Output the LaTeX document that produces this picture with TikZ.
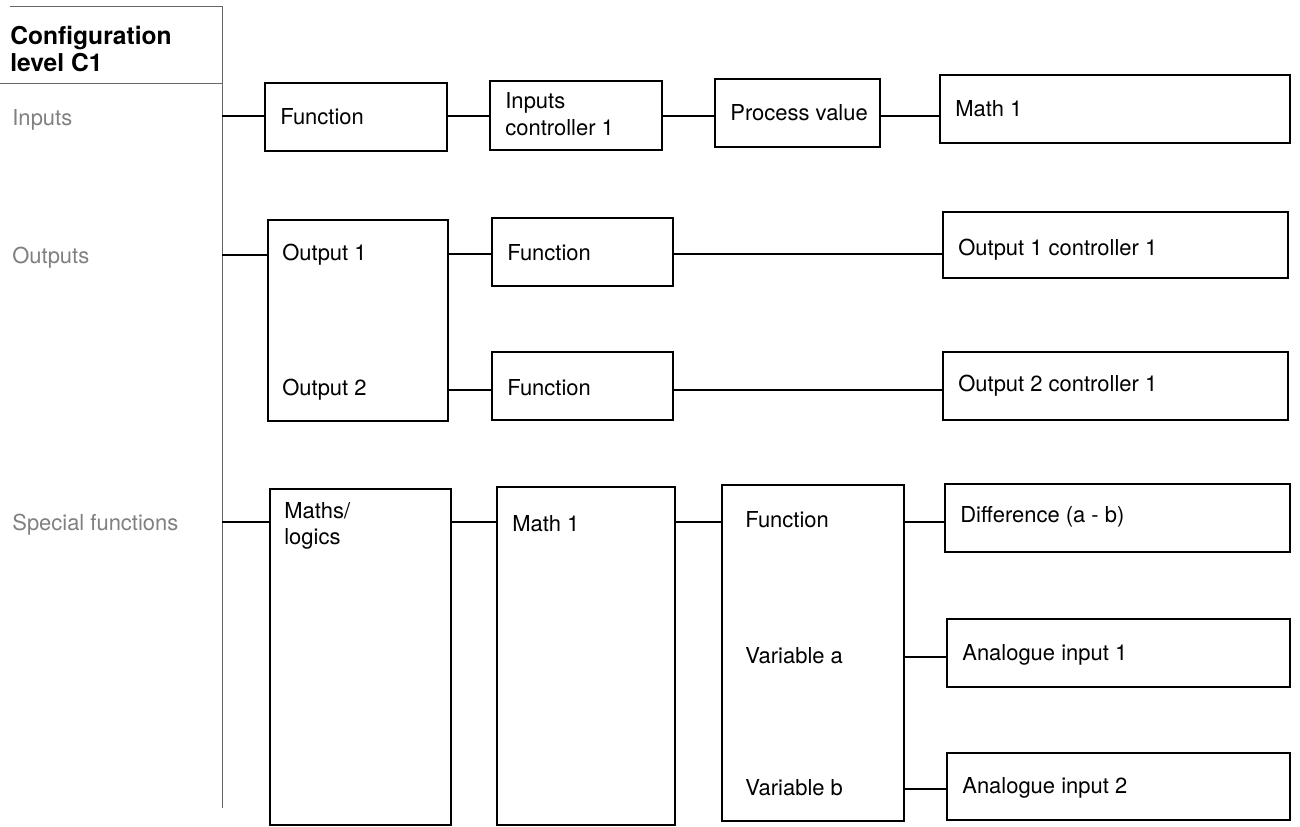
\documentclass[tikz,border=0pt]{standalone}
\usepackage{fontspec}
\setmainfont{TeX Gyre Heros}
\usetikzlibrary{fit}
\tikzset{
  box/.style={draw=black, line width=0.6pt, inner sep=0pt},
  lbl/.style={anchor=west, inner sep=0pt, font=\fontsize{12.5}{15}\selectfont, align=left},
  side/.style={lbl, text=black!50},
  conn/.style={draw=black, line width=0.8pt},
  frame/.style={draw=black!60, line width=0.5pt},
}
\begin{document}
\begin{tikzpicture}[x=0.02cm,y=-0.02cm]
\useasboundingbox (0,0) rectangle (1300,827);
% header
\node[anchor=north west, inner sep=0pt, font=\bfseries\fontsize{14}{15.5}\selectfont, align=left] (title) at (10,26) {Configuration\\level C1};
\coordinate (spT) at (222,6);
\coordinate (spB) at (222,808);
\coordinate (hdL) at (0,83);
\draw[frame] (10,6) -- (spT) -- (spB);
\draw[frame] (hdL) -- (spT |- hdL);
% side labels
\node[side] (sIn) at (12,120) {Inputs};
\node[side] (sOut) at (12,258) {Outputs};
\node[side] (sSp) at (12,525) {Special functions};
% row coordinates
\coordinate (rIn) at (0,116);
\coordinate (rO1) at (0,254);
\coordinate (rO2) at (0,390);
\coordinate (rS) at (0,522);
\coordinate (rVa) at (0,657);
\coordinate (rVb) at (0,789);
% inputs row
\node[box, fit={(265,83) (447,151)}] (fnA) {};
\node[lbl] (tFnA) at (280,117) {Function};
\node[box, fit={(490,81) (662,150)}] (icA) {};
\node[lbl] (tIcA) at (505,114) {Inputs\\controller 1};
\node[box, fit={(715,79) (880,147)}] (pvA) {};
\node[lbl] (tPvA) at (730,113) {Process value};
\node[box, fit={(940,75) (1290,143)}] (mA) {};
\node[lbl] (tMA) at (955,109) {Math 1};
\draw[conn] (spT |- rIn) -- (fnA.west |- rIn);
\draw[conn] (fnA.east |- rIn) -- (icA.west |- rIn);
\draw[conn] (icA.east |- rIn) -- (pvA.west |- rIn);
\draw[conn] (pvA.east |- rIn) -- (mA.west |- rIn);
% outputs row
\node[box, fit={(268,220) (448,421)}] (outB) {};
\node[lbl] (tO1) at (282,255) {Output 1};
\node[lbl] (tO2) at (282,390) {Output 2};
\node[box, fit={(492,218) (673,286)}] (fnB) {};
\node[lbl] (tFnB) at (507,253) {Function};
\node[box, fit={(492,352) (673,420)}] (fnC) {};
\node[lbl] (tFnC) at (507,388) {Function};
\node[box, fit={(943,212) (1288,278)}] (oc1) {};
\node[lbl] (tOc1) at (958,250) {Output 1 controller 1};
\node[box, fit={(943,352) (1288,420)}] (oc2) {};
\node[lbl] (tOc2) at (958,386) {Output 2 controller 1};
\draw[conn] (spT |- tO1) -- (outB.west |- tO1);
\draw[conn] (outB.east |- rO1) -- (fnB.west |- rO1);
\draw[conn] (fnB.east |- rO1) -- (oc1.west |- rO1);
\draw[conn] (outB.east |- rO2) -- (fnC.west |- rO2);
\draw[conn] (fnC.east |- rO2) -- (oc2.west |- rO2);
% special functions row
\node[box, fit={(270,489) (451,825)}] (mlB) {};
\node[lbl, anchor=north west] (tMl) at (284,502) {Maths/\\logics};
\node[box, fit={(497,487) (675,825)}] (m1B) {};
\node[lbl] (tM1) at (512,524) {Math 1};
\node[box, fit={(722,485) (904,821)}] (fvB) {};
\node[lbl] (tFv) at (745,520) {Function};
\node[lbl] (tVa) at (745,656) {Variable a};
\node[lbl] (tVb) at (745,788) {Variable b};
\node[box, fit={(945,484) (1290,552)}] (dfB) {};
\node[lbl] (tDf) at (960,517) {Difference (a - b)};
\node[box, fit={(947,619) (1290,687)}] (ai1) {};
\node[lbl] (tAi1) at (962,655) {Analogue input 1};
\node[box, fit={(947,753) (1290,820)}] (ai2) {};
\node[lbl] (tAi2) at (962,788) {Analogue input 2};
\draw[conn] (spT |- rS) -- (mlB.west |- rS);
\draw[conn] (mlB.east |- rS) -- (m1B.west |- rS);
\draw[conn] (m1B.east |- rS) -- (fvB.west |- rS);
\draw[conn] (fvB.east |- rS) -- (dfB.west |- rS);
\draw[conn] (fvB.east |- rVa) -- (ai1.west |- rVa);
\draw[conn] (fvB.east |- rVb) -- (ai2.west |- rVb);
\end{tikzpicture}
\end{document}
